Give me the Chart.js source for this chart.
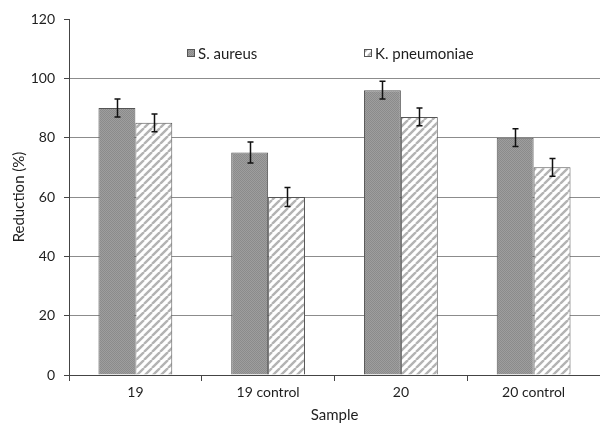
<!DOCTYPE html>
<html>
<head>
<meta charset="utf-8">
<script src="https://cdn.jsdelivr.net/npm/chart.js@4/dist/chart.umd.min.js"></script>
<style>
  html, body { margin: 0; padding: 0; background: #fff; }
  #wrap { width: 600px; height: 425px; }
</style>
</head>
<body>
<div id="wrap"><canvas id="chart" width="600" height="425"></canvas></div>
<script>
// Samples on the category axis
const categories = ['19', '19 control', '20', '20 control'];

// Reduction (%) per organism, with standard-deviation error bars
const seriesNames = ['S. aureus', 'K. pneumoniae'];
const sAureus = [90, 75, 96, 80];
const sAureusErr = [3, 3.5, 3, 3];
const kPneumoniae = [85, 60, 87, 70];
const kPneumoniaeErr = [3, 3.2, 3, 3];

// Value axis ticks
const yTickValues = [0, 20, 40, 60, 80, 100, 120];

const FONT = 'Lato, "Open Sans", sans-serif';
const TEXT = '#1e1e1e';
const AXIS = '#444';
const GRID = '#8c8c8c';
const EDGE = '#555';

// Fine grey stipple fill
function stipplePattern() {
  const c = document.createElement('canvas');
  c.width = 2; c.height = 2;
  const g = c.getContext('2d');
  g.fillStyle = '#9e9e9e'; g.fillRect(0, 0, 2, 2);
  g.fillStyle = '#8b8b8b'; g.fillRect(0, 0, 1, 1); g.fillRect(1, 1, 1, 1);
  return g.createPattern(c, 'repeat');
}

// White fill with grey "/" diagonal hatching
function hatchPattern() {
  const s = 8;
  const c = document.createElement('canvas');
  c.width = s; c.height = s;
  const g = c.getContext('2d');
  g.fillStyle = '#fff'; g.fillRect(0, 0, s, s);
  g.strokeStyle = '#b3b3b3';
  g.lineWidth = 2.4;
  g.beginPath();
  for (const k of [-s, 0, s]) {
    g.moveTo(k, s); g.lineTo(k + s, 0);
  }
  g.stroke();
  return g.createPattern(c, 'repeat');
}

const fills = [stipplePattern(), hatchPattern()];
const errors = [sAureusErr, kPneumoniaeErr];

// Error bars drawn from each bar's value +/- its error through the y scale
const errorBars = {
  id: 'errorBars',
  afterDatasetsDraw(chart) {
    const { ctx, scales: { y } } = chart;
    ctx.save();
    ctx.strokeStyle = '#111';
    ctx.lineWidth = 1.5;
    chart.data.datasets.forEach((ds, di) => {
      const meta = chart.getDatasetMeta(di);
      meta.data.forEach((bar, i) => {
        const v = ds.data[i], e = errors[di][i];
        const x = Math.round(bar.x) + 0.5;
        const yt = y.getPixelForValue(v + e);
        const yb = y.getPixelForValue(v - e);
        ctx.beginPath();
        ctx.moveTo(x, yt); ctx.lineTo(x, yb);
        ctx.moveTo(x - 3, yt); ctx.lineTo(x + 3, yt);
        ctx.moveTo(x - 3, yb); ctx.lineTo(x + 3, yb);
        ctx.stroke();
      });
    });
    ctx.restore();
  }
};

// Legend placed inside the plot area, above the 100 gridline
const insideLegend = {
  id: 'insideLegend',
  afterDraw(chart) {
    const { ctx, chartArea } = chart;
    const offsets = [118, 295];
    const cy = chartArea.top + 34;
    ctx.save();
    ctx.font = '15px ' + FONT;
    ctx.textBaseline = 'middle';
    chart.data.datasets.forEach((ds, i) => {
      const bx = chartArea.left + offsets[i];
      ctx.fillStyle = ds.backgroundColor;
      ctx.fillRect(bx, cy - 4, 8, 8);
      ctx.strokeStyle = EDGE;
      ctx.lineWidth = 1;
      ctx.strokeRect(bx + 0.5, cy - 3.5, 7, 7);
      ctx.fillStyle = TEXT;
      ctx.fillText(ds.label, bx + 11, cy + 1);
    });
    ctx.restore();
  }
};

new Chart(document.getElementById('chart'), {
  type: 'bar',
  data: {
    labels: categories,
    datasets: [sAureus, kPneumoniae].map((vals, i) => ({
      label: seriesNames[i],
      data: vals,
      backgroundColor: fills[i],
      borderColor: EDGE,
      borderWidth: 1,
      categoryPercentage: 0.556,
      barPercentage: 1
    }))
  },
  plugins: [errorBars, insideLegend],
  options: {
    responsive: false,
    animation: false,
    devicePixelRatio: 1,
    layout: { padding: { left: 0, right: 0, top: 19, bottom: 0 } },
    plugins: {
      legend: { display: false },
      tooltip: { enabled: false }
    },
    scales: {
      x: {
        afterFit(scale) { scale.height = 50; },
        grid: {
          offset: true,
          drawOnChartArea: false,
          drawTicks: true,
          tickLength: 6,
          tickColor: AXIS,
          lineWidth: 1
        },
        border: { display: true, color: AXIS, width: 1 },
        ticks: { color: TEXT, font: { family: FONT, size: 14 }, padding: 3 },
        title: {
          display: true,
          text: 'Sample',
          color: TEXT,
          font: { family: FONT, size: 15 },
          padding: { top: 0, bottom: 1 }
        }
      },
      y: {
        min: yTickValues[0],
        max: yTickValues[yTickValues.length - 1],
        afterFit(scale) { scale.width = 69; },
        afterBuildTicks(scale) { scale.ticks = yTickValues.map(v => ({ value: v })); },
        grid: {
          color: (c) => (c.tick && (c.tick.value === 0 || c.tick.value === 120)) ? 'rgba(0,0,0,0)' : GRID,
          tickColor: AXIS,
          tickLength: 5,
          lineWidth: 1
        },
        border: { display: true, color: AXIS, width: 1 },
        ticks: { color: TEXT, font: { family: FONT, size: 14 }, padding: 9 },
        title: {
          display: true,
          text: 'Reduction (%)',
          color: TEXT,
          font: { family: FONT, size: 15 },
          padding: { top: 10, bottom: 0 }
        }
      }
    }
  }
});
</script>
</body>
</html>
